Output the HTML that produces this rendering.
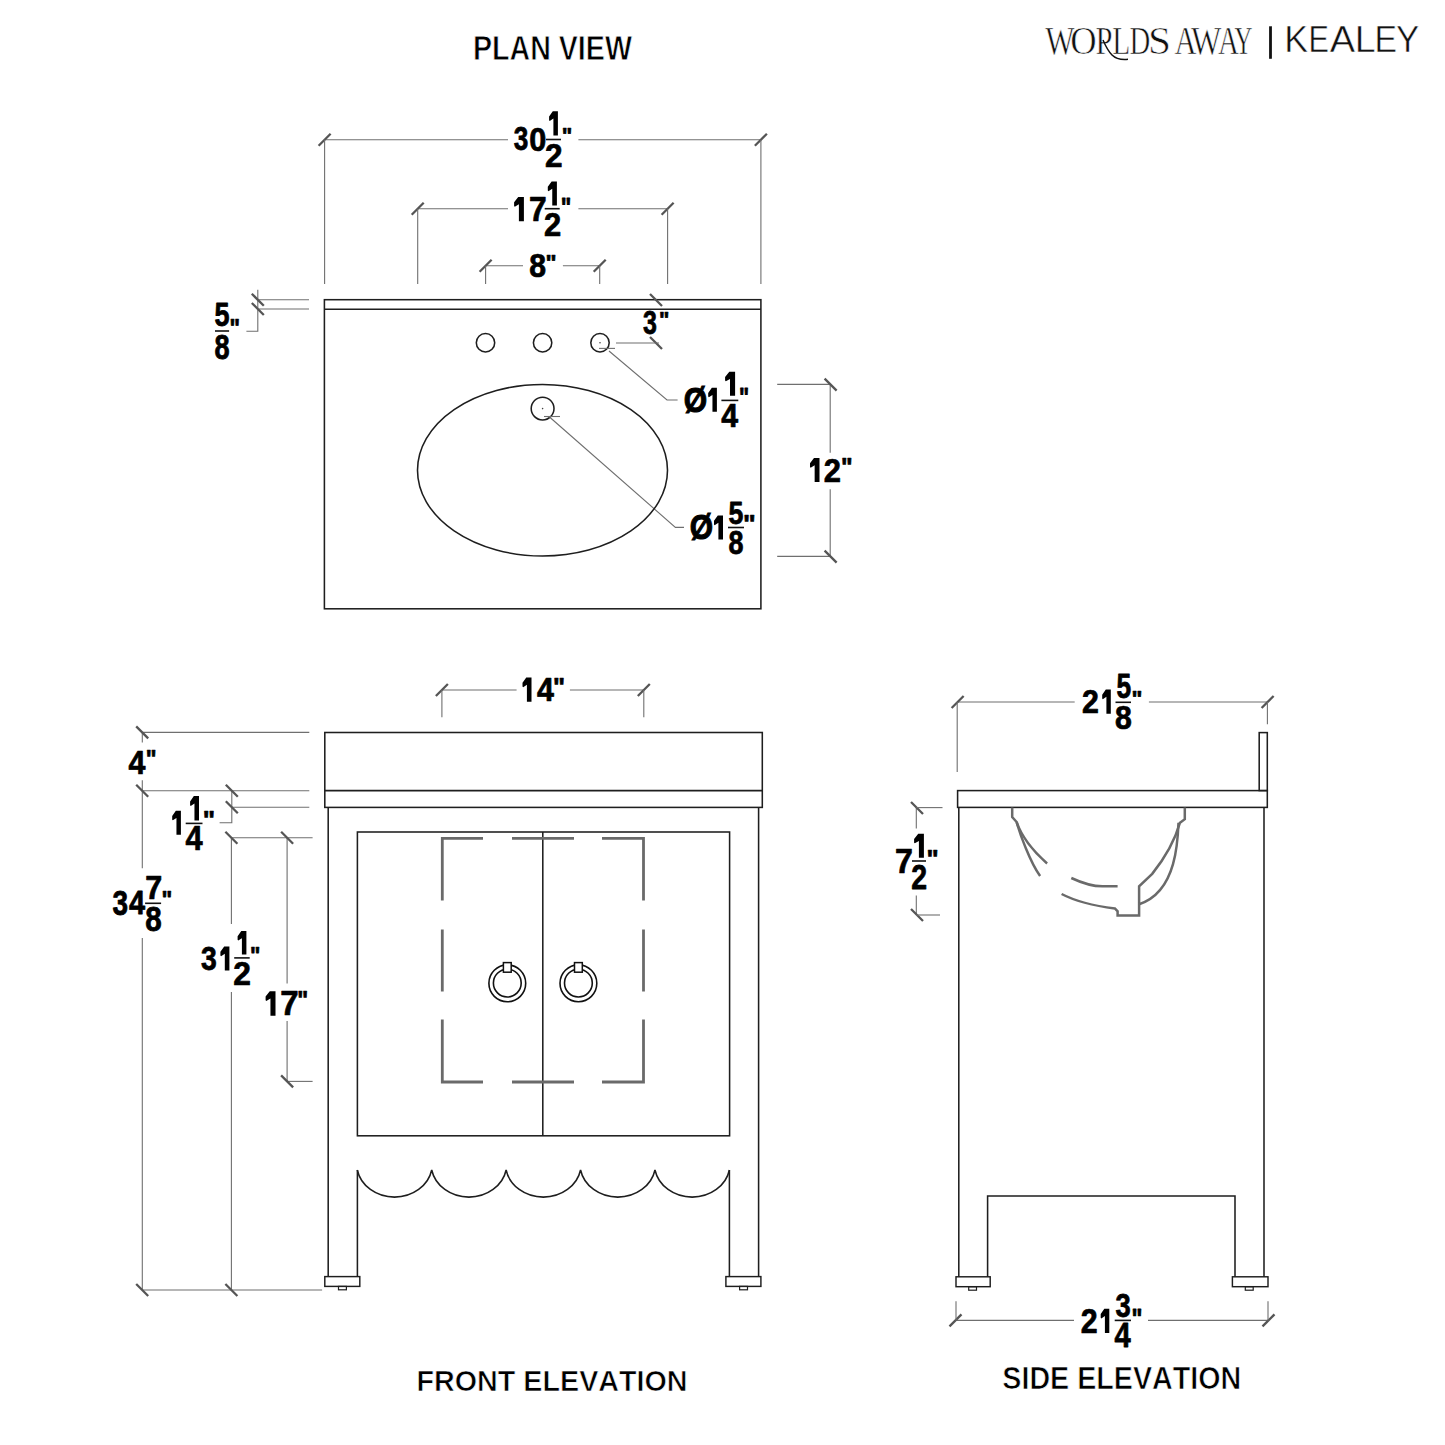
<!DOCTYPE html><html><head><meta charset="utf-8"><style>html,body{margin:0;padding:0;background:#fff;}svg{display:block;}text{font-kerning:none;}</style></head><body>
<svg width="1445" height="1445" viewBox="0 0 1445 1445">
<rect width="1445" height="1445" fill="#fff"/>
<text transform="matrix(0.28627 0 0 0.34158 472.93 60.45)" font-family='"Liberation Sans", sans-serif' font-weight="bold" font-size="100" fill="#000" stroke="#fff" stroke-width="2.2" paint-order="fill">PLAN VIEW</text>
<text transform="matrix(0.28722 0 0 0.30367 416.43 1390.55)" font-family='"Liberation Sans", sans-serif' font-weight="bold" font-size="100" fill="#000" stroke="#fff" stroke-width="2.2" paint-order="fill">FRONT ELEVATION</text>
<text transform="matrix(0.28695 0 0 0.31497 1002.32 1388.74)" font-family='"Liberation Sans", sans-serif' font-weight="bold" font-size="100" fill="#000" stroke="#fff" stroke-width="2.2" paint-order="fill">SIDE ELEVATION</text>
<text transform="matrix(0.31034 0 0 0.39557 1045.37 53.70)" font-family='"Liberation Serif", serif' font-weight="normal" font-size="100" fill="#111" stroke="#fff" stroke-width="1.6" paint-order="fill">W</text>
<text transform="matrix(0.36555 0 0 0.40930 1070.20 54.40)" font-family='"Liberation Serif", serif' font-weight="normal" font-size="100" fill="#111" stroke="#fff" stroke-width="1.6" paint-order="fill">O</text>
<text transform="matrix(0.30576 0 0 0.40471 1095.52 54.30)" font-family='"Liberation Serif", serif' font-weight="normal" font-size="100" fill="#111" stroke="#fff" stroke-width="1.6" paint-order="fill">P</text>
<text transform="matrix(0.29503 0 0 0.40471 1112.35 54.30)" font-family='"Liberation Serif", serif' font-weight="normal" font-size="100" fill="#111" stroke="#fff" stroke-width="1.6" paint-order="fill">L</text>
<text transform="matrix(0.28776 0 0 0.40351 1129.47 54.22)" font-family='"Liberation Serif", serif' font-weight="normal" font-size="100" fill="#111" stroke="#fff" stroke-width="1.6" paint-order="fill">D</text>
<text transform="matrix(0.41428 0 0 0.40930 1148.03 54.40)" font-family='"Liberation Serif", serif' font-weight="normal" font-size="100" fill="#111" stroke="#fff" stroke-width="1.6" paint-order="fill">S</text>
<text transform="matrix(0.30493 0 0 0.40142 1174.50 54.30)" font-family='"Liberation Serif", serif' font-weight="normal" font-size="100" fill="#111" stroke="#fff" stroke-width="1.6" paint-order="fill">A</text>
<text transform="matrix(0.32203 0 0 0.39557 1191.07 53.70)" font-family='"Liberation Serif", serif' font-weight="normal" font-size="100" fill="#111" stroke="#fff" stroke-width="1.6" paint-order="fill">W</text>
<text transform="matrix(0.28933 0 0 0.40142 1217.92 54.30)" font-family='"Liberation Serif", serif' font-weight="normal" font-size="100" fill="#111" stroke="#fff" stroke-width="1.6" paint-order="fill">A</text>
<text transform="matrix(0.24798 0 0 0.40471 1234.62 54.30)" font-family='"Liberation Serif", serif' font-weight="normal" font-size="100" fill="#111" stroke="#fff" stroke-width="1.6" paint-order="fill">Y</text>
<path d="M1103 40 C1106 47 1108 51 1112 55 C1116 59 1121 60 1128 59.3" stroke="#111" stroke-width="1.5" fill="none"/>
<line x1="1270.5" y1="26.3" x2="1270.5" y2="58.8" stroke="#111" stroke-width="2.8"/>
<text transform="matrix(0.35905 0 0 0.36047 1284.15 52.30)" font-family='"Liberation Sans", sans-serif' font-weight="normal" font-size="100" fill="#111" stroke="#fff" stroke-width="1.4" paint-order="fill">K</text>
<text transform="matrix(0.30628 0 0 0.36047 1308.59 52.30)" font-family='"Liberation Sans", sans-serif' font-weight="normal" font-size="100" fill="#111" stroke="#fff" stroke-width="1.4" paint-order="fill">E</text>
<text transform="matrix(0.38004 0 0 0.36047 1329.83 52.30)" font-family='"Liberation Sans", sans-serif' font-weight="normal" font-size="100" fill="#111" stroke="#fff" stroke-width="1.4" paint-order="fill">A</text>
<text transform="matrix(0.37649 0 0 0.36047 1354.81 52.30)" font-family='"Liberation Sans", sans-serif' font-weight="normal" font-size="100" fill="#111" stroke="#fff" stroke-width="1.4" paint-order="fill">L</text>
<text transform="matrix(0.33764 0 0 0.36047 1374.53 52.30)" font-family='"Liberation Sans", sans-serif' font-weight="normal" font-size="100" fill="#111" stroke="#fff" stroke-width="1.4" paint-order="fill">E</text>
<text transform="matrix(0.34829 0 0 0.36047 1395.93 52.30)" font-family='"Liberation Sans", sans-serif' font-weight="normal" font-size="100" fill="#111" stroke="#fff" stroke-width="1.4" paint-order="fill">Y</text>
<line x1="324.6" y1="139.7" x2="508" y2="139.7" stroke="#6f6f6f" stroke-width="1.1" fill="none"/>
<line x1="578.4" y1="139.7" x2="760.9" y2="139.7" stroke="#6f6f6f" stroke-width="1.1" fill="none"/>
<line x1="318.6" y1="145.7" x2="330.6" y2="133.7" stroke="#555" stroke-width="2.3" stroke-linecap="butt" fill="none"/>
<line x1="754.9" y1="145.7" x2="766.9" y2="133.7" stroke="#555" stroke-width="2.3" stroke-linecap="butt" fill="none"/>
<line x1="324.6" y1="139.7" x2="324.6" y2="284" stroke="#6f6f6f" stroke-width="1.1" fill="none"/>
<line x1="760.9" y1="139.7" x2="760.9" y2="284" stroke="#6f6f6f" stroke-width="1.1" fill="none"/>
<text transform="matrix(0.26153 0 0 0.33123 513.85 150.48)" font-family='"Liberation Sans", sans-serif' font-weight="bold" font-size="100" fill="#000"  stroke="#000" stroke-width="2.36" stroke-linejoin="round">3</text>
<text transform="matrix(0.30699 0 0 0.33192 529.34 150.53)" font-family='"Liberation Sans", sans-serif' font-weight="bold" font-size="100" fill="#000"  stroke="#000" stroke-width="2.19" stroke-linejoin="round">0</text>
<path d="M552.80 111.20 L557.90 111.20 L557.90 135.40 L553.41 135.40 L553.41 118.46 L549.72 120.88 L549.10 120.15 L549.10 116.52 Z" fill="#000"/>
<line x1="546" y1="139.5" x2="561" y2="139.5" stroke="#111" stroke-width="1.6"/>
<text transform="matrix(0.31572 0 0 0.33942 544.96 166.65)" font-family='"Liberation Sans", sans-serif' font-weight="bold" font-size="100" fill="#000"  stroke="#000" stroke-width="2.14" stroke-linejoin="round">2</text>
<text transform="matrix(0.22204 0 0 0.22043 561.79 142.82)" font-family='"Liberation Sans", sans-serif' font-weight="bold" font-size="100" fill="#000"  stroke="#000" stroke-width="3.16" stroke-linejoin="round">&quot;</text>
<line x1="417.7" y1="208.8" x2="508" y2="208.8" stroke="#6f6f6f" stroke-width="1.1" fill="none"/>
<line x1="578.4" y1="208.8" x2="667.6" y2="208.8" stroke="#6f6f6f" stroke-width="1.1" fill="none"/>
<line x1="411.7" y1="214.8" x2="423.7" y2="202.8" stroke="#555" stroke-width="2.3" stroke-linecap="butt" fill="none"/>
<line x1="661.6" y1="214.8" x2="673.6" y2="202.8" stroke="#555" stroke-width="2.3" stroke-linecap="butt" fill="none"/>
<line x1="417.7" y1="208.8" x2="417.7" y2="284" stroke="#6f6f6f" stroke-width="1.1" fill="none"/>
<line x1="667.6" y1="208.8" x2="667.6" y2="284" stroke="#6f6f6f" stroke-width="1.1" fill="none"/>
<path d="M518.22 197.00 L523.90 197.00 L523.90 221.20 L518.90 221.20 L518.90 204.26 L514.79 206.68 L514.10 205.95 L514.10 202.32 Z" fill="#000"/>
<text transform="matrix(0.31754 0 0 0.34158 528.89 220.85)" font-family='"Liberation Sans", sans-serif' font-weight="bold" font-size="100" fill="#000"  stroke="#000" stroke-width="2.12" stroke-linejoin="round">7</text>
<path d="M551.62 181.50 L556.90 181.50 L556.90 205.60 L552.26 205.60 L552.26 188.73 L548.44 191.14 L547.80 190.42 L547.80 186.80 Z" fill="#000"/>
<line x1="544.7" y1="208.7" x2="559.7" y2="208.7" stroke="#111" stroke-width="1.6"/>
<text transform="matrix(0.30948 0 0 0.33226 543.98 235.65)" font-family='"Liberation Sans", sans-serif' font-weight="bold" font-size="100" fill="#000"  stroke="#000" stroke-width="2.18" stroke-linejoin="round">2</text>
<text transform="matrix(0.22204 0 0 0.26452 560.69 215.85)" font-family='"Liberation Sans", sans-serif' font-weight="bold" font-size="100" fill="#000"  stroke="#000" stroke-width="2.88" stroke-linejoin="round">&quot;</text>
<line x1="485.6" y1="265.7" x2="523" y2="265.7" stroke="#6f6f6f" stroke-width="1.1" fill="none"/>
<line x1="562.9" y1="265.7" x2="599.7" y2="265.7" stroke="#6f6f6f" stroke-width="1.1" fill="none"/>
<line x1="479.6" y1="271.7" x2="491.6" y2="259.7" stroke="#555" stroke-width="2.3" stroke-linecap="butt" fill="none"/>
<line x1="593.7" y1="271.7" x2="605.7" y2="259.7" stroke="#555" stroke-width="2.3" stroke-linecap="butt" fill="none"/>
<line x1="485.6" y1="265.7" x2="485.6" y2="284" stroke="#6f6f6f" stroke-width="1.1" fill="none"/>
<line x1="599.7" y1="265.7" x2="599.7" y2="284" stroke="#6f6f6f" stroke-width="1.1" fill="none"/>
<text transform="matrix(0.30183 0 0 0.33333 529.29 277.32)" font-family='"Liberation Sans", sans-serif' font-weight="bold" font-size="100" fill="#000"  stroke="#000" stroke-width="2.20" stroke-linejoin="round">8</text>
<text transform="matrix(0.23372 0 0 0.22444 545.51 270.09)" font-family='"Liberation Sans", sans-serif' font-weight="bold" font-size="100" fill="#000"  stroke="#000" stroke-width="3.06" stroke-linejoin="round">&quot;</text>
<rect x="324.4" y="299.7" width="436.50" height="309.10" stroke="#1e1e1e" stroke-width="1.55" fill="none"/>
<line x1="324.4" y1="309.3" x2="760.9" y2="309.3" stroke="#1e1e1e" stroke-width="1.55" fill="none"/>
<line x1="258.9" y1="299.8" x2="309" y2="299.8" stroke="#6f6f6f" stroke-width="1.1" fill="none"/>
<line x1="258.9" y1="309" x2="309" y2="309" stroke="#6f6f6f" stroke-width="1.1" fill="none"/>
<path d="M257.8 289.7 L257.8 331.2 L246.4 331.2" stroke="#6f6f6f" stroke-width="1.1" fill="none"/>
<line x1="251.8" y1="293.8" x2="263.8" y2="305.8" stroke="#555" stroke-width="2.3" stroke-linecap="butt" fill="none"/>
<line x1="251.8" y1="303.0" x2="263.8" y2="315.0" stroke="#555" stroke-width="2.3" stroke-linecap="butt" fill="none"/>
<text transform="matrix(0.26932 0 0 0.33966 214.52 326.42)" font-family='"Liberation Sans", sans-serif' font-weight="bold" font-size="100" fill="#000"  stroke="#000" stroke-width="2.30" stroke-linejoin="round">5</text>
<line x1="215" y1="331" x2="229.1" y2="331" stroke="#111" stroke-width="1.6"/>
<text transform="matrix(0.27145 0 0 0.35028 214.49 358.81)" font-family='"Liberation Sans", sans-serif' font-weight="bold" font-size="100" fill="#000"  stroke="#000" stroke-width="2.25" stroke-linejoin="round">8</text>
<text transform="matrix(0.22204 0 0 0.25249 229.39 336.72)" font-family='"Liberation Sans", sans-serif' font-weight="bold" font-size="100" fill="#000"  stroke="#000" stroke-width="2.95" stroke-linejoin="round">&quot;</text>
<line x1="650.0" y1="294.0" x2="662.0" y2="306.0" stroke="#555" stroke-width="2.3" stroke-linecap="butt" fill="none"/>
<line x1="650.0" y1="337.0" x2="662.0" y2="349.0" stroke="#555" stroke-width="2.3" stroke-linecap="butt" fill="none"/>
<line x1="616" y1="343" x2="659" y2="343" stroke="#6f6f6f" stroke-width="1.1" fill="none"/>
<text transform="matrix(0.24946 0 0 0.33264 642.98 333.98)" font-family='"Liberation Sans", sans-serif' font-weight="bold" font-size="100" fill="#000"  stroke="#000" stroke-width="2.41" stroke-linejoin="round">3</text>
<text transform="matrix(0.21912 0 0 0.22043 658.91 326.52)" font-family='"Liberation Sans", sans-serif' font-weight="bold" font-size="100" fill="#000"  stroke="#000" stroke-width="3.19" stroke-linejoin="round">&quot;</text>
<circle cx="485.5" cy="342.8" r="9.2" stroke="#1e1e1e" stroke-width="1.55" fill="none" stroke-width="1.3"/>
<circle cx="542.6" cy="342.8" r="9.2" stroke="#1e1e1e" stroke-width="1.55" fill="none" stroke-width="1.3"/>
<circle cx="600" cy="342.8" r="9.2" stroke="#1e1e1e" stroke-width="1.55" fill="none" stroke-width="1.3"/>
<circle cx="600" cy="342.8" r="0.8" fill="#444"/>
<line x1="599" y1="348.4" x2="615" y2="348.4" stroke="#6f6f6f" stroke-width="1.1" fill="none"/>
<path d="M609 351 L667 400 L677.6 400" stroke="#6f6f6f" stroke-width="1.1" fill="none"/>
<text transform="matrix(0.30058 0 0 0.35237 683.77 412.04)" font-family='"Liberation Sans", sans-serif' font-weight="bold" font-size="100" fill="#000" stroke="#000" stroke-width="3">Ø</text>
<path d="M711.85 387.70 L716.90 387.70 L716.90 411.80 L712.46 411.80 L712.46 394.93 L708.81 397.34 L708.20 396.62 L708.20 393.00 Z" fill="#000"/>
<path d="M729.30 371.70 L735.10 371.70 L735.10 395.70 L730.00 395.70 L730.00 378.90 L725.80 381.30 L725.10 380.58 L725.10 376.98 Z" fill="#000"/>
<line x1="721.4" y1="400.4" x2="738.3" y2="400.4" stroke="#111" stroke-width="1.6"/>
<text transform="matrix(0.30244 0 0 0.33722 721.29 426.95)" font-family='"Liberation Sans", sans-serif' font-weight="bold" font-size="100" fill="#000"  stroke="#000" stroke-width="2.19" stroke-linejoin="round">4</text>
<text transform="matrix(0.21327 0 0 0.25249 738.94 405.62)" font-family='"Liberation Sans", sans-serif' font-weight="bold" font-size="100" fill="#000"  stroke="#000" stroke-width="3.01" stroke-linejoin="round">&quot;</text>
<circle cx="542.6" cy="408.6" r="11.4" stroke="#1e1e1e" stroke-width="1.55" fill="none" stroke-width="1.3"/>
<circle cx="542.6" cy="408.6" r="0.8" fill="#444"/>
<line x1="544" y1="416.5" x2="560" y2="416.5" stroke="#6f6f6f" stroke-width="1.1" fill="none"/>
<path d="M549.5 417 L675.4 527.4 L684 527.4" stroke="#6f6f6f" stroke-width="1.1" fill="none"/>
<text transform="matrix(0.29915 0 0 0.34310 689.77 539.18)" font-family='"Liberation Sans", sans-serif' font-weight="bold" font-size="100" fill="#000" stroke="#000" stroke-width="3">Ø</text>
<path d="M717.78 515.50 L723.00 515.50 L723.00 539.60 L718.41 539.60 L718.41 522.73 L714.63 525.14 L714.00 524.42 L714.00 520.80 Z" fill="#000"/>
<text transform="matrix(0.26731 0 0 0.31673 728.53 523.74)" font-family='"Liberation Sans", sans-serif' font-weight="bold" font-size="100" fill="#000"  stroke="#000" stroke-width="2.40" stroke-linejoin="round">5</text>
<line x1="728" y1="527.5" x2="744" y2="527.5" stroke="#111" stroke-width="1.6"/>
<text transform="matrix(0.26942 0 0 0.33615 728.49 554.32)" font-family='"Liberation Sans", sans-serif' font-weight="bold" font-size="100" fill="#000"  stroke="#000" stroke-width="2.31" stroke-linejoin="round">8</text>
<text transform="matrix(0.26878 0 0 0.25249 743.08 532.72)" font-family='"Liberation Sans", sans-serif' font-weight="bold" font-size="100" fill="#000"  stroke="#000" stroke-width="2.69" stroke-linejoin="round">&quot;</text>
<ellipse cx="542.5" cy="470.2" rx="125" ry="85.8" stroke="#1e1e1e" stroke-width="1.55" fill="none" stroke-width="1.5"/>
<line x1="777.2" y1="384.4" x2="830.2" y2="384.4" stroke="#6f6f6f" stroke-width="1.1" fill="none"/>
<line x1="777.2" y1="556.4" x2="830.2" y2="556.4" stroke="#6f6f6f" stroke-width="1.1" fill="none"/>
<line x1="830.2" y1="384.4" x2="830.2" y2="452.7" stroke="#6f6f6f" stroke-width="1.1" fill="none"/>
<line x1="830.2" y1="489.2" x2="830.2" y2="556.4" stroke="#6f6f6f" stroke-width="1.1" fill="none"/>
<line x1="824.6" y1="378.6" x2="836.6" y2="390.6" stroke="#555" stroke-width="2.3" stroke-linecap="butt" fill="none"/>
<line x1="824.6" y1="550.6" x2="836.6" y2="562.6" stroke="#555" stroke-width="2.3" stroke-linecap="butt" fill="none"/>
<path d="M813.99 458.10 L819.50 458.10 L819.50 482.00 L814.65 482.00 L814.65 465.27 L810.66 467.66 L810.00 466.94 L810.00 463.36 Z" fill="#000"/>
<text transform="matrix(0.30948 0 0 0.33226 823.78 481.65)" font-family='"Liberation Sans", sans-serif' font-weight="bold" font-size="100" fill="#000"  stroke="#000" stroke-width="2.18" stroke-linejoin="round">2</text>
<text transform="matrix(0.24541 0 0 0.25249 840.93 476.02)" font-family='"Liberation Sans", sans-serif' font-weight="bold" font-size="100" fill="#000"  stroke="#000" stroke-width="2.81" stroke-linejoin="round">&quot;</text>
<line x1="441.9" y1="690" x2="516.6" y2="690" stroke="#6f6f6f" stroke-width="1.1" fill="none"/>
<line x1="569.9" y1="690" x2="643.8" y2="690" stroke="#6f6f6f" stroke-width="1.1" fill="none"/>
<line x1="435.9" y1="696.0" x2="447.9" y2="684.0" stroke="#555" stroke-width="2.3" stroke-linecap="butt" fill="none"/>
<line x1="637.8" y1="696.0" x2="649.8" y2="684.0" stroke="#555" stroke-width="2.3" stroke-linecap="butt" fill="none"/>
<line x1="441.9" y1="690" x2="441.9" y2="717.3" stroke="#6f6f6f" stroke-width="1.1" fill="none"/>
<line x1="643.8" y1="690" x2="643.8" y2="717.3" stroke="#6f6f6f" stroke-width="1.1" fill="none"/>
<path d="M526.28 677.50 L531.50 677.50 L531.50 701.70 L526.91 701.70 L526.91 684.76 L523.13 687.18 L522.50 686.45 L522.50 682.82 Z" fill="#000"/>
<text transform="matrix(0.30431 0 0 0.34158 536.89 701.35)" font-family='"Liberation Sans", sans-serif' font-weight="bold" font-size="100" fill="#000"  stroke="#000" stroke-width="2.17" stroke-linejoin="round">4</text>
<text transform="matrix(0.25417 0 0 0.26051 552.97 695.77)" font-family='"Liberation Sans", sans-serif' font-weight="bold" font-size="100" fill="#000"  stroke="#000" stroke-width="2.72" stroke-linejoin="round">&quot;</text>
<rect x="324.8" y="732.5" width="437.50" height="74.90" stroke="#1e1e1e" stroke-width="1.55" fill="none"/>
<line x1="324.8" y1="790.6" x2="762.3" y2="790.6" stroke="#1e1e1e" stroke-width="1.55" fill="none"/>
<line x1="328.2" y1="807.4" x2="328.2" y2="1276.6" stroke="#1e1e1e" stroke-width="1.55" fill="none"/>
<line x1="758.6" y1="807.4" x2="758.6" y2="1276.6" stroke="#1e1e1e" stroke-width="1.55" fill="none"/>
<rect x="357.4" y="832" width="372.20" height="303.80" stroke="#1e1e1e" stroke-width="1.55" fill="none"/>
<line x1="542.8" y1="832" x2="542.8" y2="1135.8" stroke="#1e1e1e" stroke-width="1.55" fill="none"/>
<path d="M483 838.3 L442.3 838.3 L442.3 900.4" stroke="#6a6a6a" stroke-width="2.8" fill="none" stroke-linecap="butt"/>
<path d="M602 838.3 L643.5 838.3 L643.5 900.4" stroke="#6a6a6a" stroke-width="2.8" fill="none" stroke-linecap="butt"/>
<path d="M483 1082 L442.3 1082 L442.3 1019.6" stroke="#6a6a6a" stroke-width="2.8" fill="none" stroke-linecap="butt"/>
<path d="M602 1082 L643.5 1082 L643.5 1019.6" stroke="#6a6a6a" stroke-width="2.8" fill="none" stroke-linecap="butt"/>
<line x1="512" y1="838.3" x2="574" y2="838.3" stroke="#6a6a6a" stroke-width="2.8" fill="none" stroke-linecap="butt"/>
<line x1="512" y1="1082" x2="574" y2="1082" stroke="#6a6a6a" stroke-width="2.8" fill="none" stroke-linecap="butt"/>
<line x1="442.3" y1="929.5" x2="442.3" y2="991.5" stroke="#6a6a6a" stroke-width="2.8" fill="none" stroke-linecap="butt"/>
<line x1="643.5" y1="929.5" x2="643.5" y2="991.5" stroke="#6a6a6a" stroke-width="2.8" fill="none" stroke-linecap="butt"/>
<circle cx="507.3" cy="983.3" r="18.4" stroke="#111" stroke-width="1.6" fill="none"/>
<circle cx="507.3" cy="983.1" r="13.9" stroke="#111" stroke-width="1.6" fill="none"/>
<rect x="503.40000000000003" y="962.6" width="7.8" height="9.6" stroke="#111" stroke-width="1.5" fill="#fff"/>
<circle cx="578.4" cy="983.3" r="18.4" stroke="#111" stroke-width="1.6" fill="none"/>
<circle cx="578.4" cy="983.1" r="13.9" stroke="#111" stroke-width="1.6" fill="none"/>
<rect x="574.5" y="962.6" width="7.8" height="9.6" stroke="#111" stroke-width="1.5" fill="#fff"/>
<line x1="357.4" y1="1170" x2="357.4" y2="1276.6" stroke="#1e1e1e" stroke-width="1.55" fill="none"/>
<line x1="729.4" y1="1170" x2="729.4" y2="1276.6" stroke="#1e1e1e" stroke-width="1.55" fill="none"/>
<path d="M357.30 1170 A37.9 33.5 0 0 0 431.72 1170 A37.9 33.5 0 0 0 506.14 1170 A37.9 33.5 0 0 0 580.56 1170 A37.9 33.5 0 0 0 654.98 1170 A37.9 33.5 0 0 0 729.40 1170" stroke="#1e1e1e" stroke-width="1.55" fill="none"/>
<rect x="324.8" y="1276.6" width="35.00" height="9.80" stroke="#1e1e1e" stroke-width="1.45" fill="none"/>
<rect x="338.5" y="1286.4" width="7.90" height="3.40" stroke="#1e1e1e" stroke-width="1.2" fill="none"/>
<rect x="725.9" y="1276.6" width="35.00" height="9.80" stroke="#1e1e1e" stroke-width="1.45" fill="none"/>
<rect x="739.6" y="1286.4" width="7.90" height="3.40" stroke="#1e1e1e" stroke-width="1.2" fill="none"/>
<line x1="143" y1="732.4" x2="309.3" y2="732.4" stroke="#6f6f6f" stroke-width="1.1" fill="none"/>
<line x1="143" y1="790.7" x2="309.3" y2="790.7" stroke="#6f6f6f" stroke-width="1.1" fill="none"/>
<line x1="231.8" y1="807.3" x2="309.3" y2="807.3" stroke="#6f6f6f" stroke-width="1.1" fill="none"/>
<line x1="231.8" y1="837.8" x2="312.6" y2="837.8" stroke="#6f6f6f" stroke-width="1.1" fill="none"/>
<line x1="287" y1="1081.4" x2="312.6" y2="1081.4" stroke="#6f6f6f" stroke-width="1.1" fill="none"/>
<line x1="142.2" y1="1290" x2="322.1" y2="1290" stroke="#6f6f6f" stroke-width="1.1" fill="none"/>
<line x1="142.3" y1="732.4" x2="142.3" y2="742.5" stroke="#6f6f6f" stroke-width="1.1" fill="none"/>
<line x1="142.3" y1="780.3" x2="142.3" y2="868.3" stroke="#6f6f6f" stroke-width="1.1" fill="none"/>
<line x1="142.3" y1="938" x2="142.3" y2="1290" stroke="#6f6f6f" stroke-width="1.1" fill="none"/>
<line x1="136.2" y1="726.4" x2="148.2" y2="738.4" stroke="#555" stroke-width="2.3" stroke-linecap="butt" fill="none"/>
<line x1="136.2" y1="784.7" x2="148.2" y2="796.7" stroke="#555" stroke-width="2.3" stroke-linecap="butt" fill="none"/>
<line x1="136.2" y1="1284.0" x2="148.2" y2="1296.0" stroke="#555" stroke-width="2.3" stroke-linecap="butt" fill="none"/>
<text transform="matrix(0.30431 0 0 0.33576 128.39 773.85)" font-family='"Liberation Sans", sans-serif' font-weight="bold" font-size="100" fill="#000"  stroke="#000" stroke-width="2.19" stroke-linejoin="round">4</text>
<text transform="matrix(0.22788 0 0 0.25249 145.85 768.12)" font-family='"Liberation Sans", sans-serif' font-weight="bold" font-size="100" fill="#000"  stroke="#000" stroke-width="2.91" stroke-linejoin="round">&quot;</text>
<text transform="matrix(0.27964 0 0 0.34533 112.51 915.06)" font-family='"Liberation Sans", sans-serif' font-weight="bold" font-size="100" fill="#000"  stroke="#000" stroke-width="2.24" stroke-linejoin="round">3</text>
<text transform="matrix(0.28937 0 0 0.33867 129.01 914.45)" font-family='"Liberation Sans", sans-serif' font-weight="bold" font-size="100" fill="#000"  stroke="#000" stroke-width="2.23" stroke-linejoin="round">4</text>
<text transform="matrix(0.30475 0 0 0.33431 145.34 899.45)" font-family='"Liberation Sans", sans-serif' font-weight="bold" font-size="100" fill="#000"  stroke="#000" stroke-width="2.19" stroke-linejoin="round">7</text>
<line x1="145.1" y1="903.3" x2="161.1" y2="903.3" stroke="#111" stroke-width="1.6"/>
<text transform="matrix(0.29575 0 0 0.35028 145.21 931.11)" font-family='"Liberation Sans", sans-serif' font-weight="bold" font-size="100" fill="#000"  stroke="#000" stroke-width="2.17" stroke-linejoin="round">8</text>
<text transform="matrix(0.22788 0 0 0.24448 161.55 908.27)" font-family='"Liberation Sans", sans-serif' font-weight="bold" font-size="100" fill="#000"  stroke="#000" stroke-width="2.96" stroke-linejoin="round">&quot;</text>
<path d="M231.8 790.7 L231.8 822.8 L219.6 822.8" stroke="#6f6f6f" stroke-width="1.1" fill="none"/>
<line x1="225.8" y1="784.7" x2="237.8" y2="796.7" stroke="#555" stroke-width="2.3" stroke-linecap="butt" fill="none"/>
<line x1="225.8" y1="801.3" x2="237.8" y2="813.3" stroke="#555" stroke-width="2.3" stroke-linecap="butt" fill="none"/>
<path d="M175.85 810.80 L180.90 810.80 L180.90 834.70 L176.46 834.70 L176.46 817.97 L172.81 820.36 L172.20 819.64 L172.20 816.06 Z" fill="#000"/>
<path d="M193.84 796.10 L199.00 796.10 L199.00 820.60 L194.46 820.60 L194.46 803.45 L190.72 805.90 L190.10 805.17 L190.10 801.49 Z" fill="#000"/>
<line x1="185.7" y1="823.4" x2="202.5" y2="823.4" stroke="#111" stroke-width="1.6"/>
<text transform="matrix(0.30804 0 0 0.34594 185.38 850.35)" font-family='"Liberation Sans", sans-serif' font-weight="bold" font-size="100" fill="#000"  stroke="#000" stroke-width="2.14" stroke-linejoin="round">4</text>
<text transform="matrix(0.26002 0 0 0.25249 202.64 828.72)" font-family='"Liberation Sans", sans-serif' font-weight="bold" font-size="100" fill="#000"  stroke="#000" stroke-width="2.73" stroke-linejoin="round">&quot;</text>
<line x1="231.4" y1="837.8" x2="231.4" y2="924" stroke="#6f6f6f" stroke-width="1.1" fill="none"/>
<line x1="231.4" y1="992" x2="231.4" y2="1290" stroke="#6f6f6f" stroke-width="1.1" fill="none"/>
<line x1="225.4" y1="831.8" x2="237.4" y2="843.8" stroke="#555" stroke-width="2.3" stroke-linecap="butt" fill="none"/>
<line x1="225.4" y1="1284.0" x2="237.4" y2="1296.0" stroke="#555" stroke-width="2.3" stroke-linecap="butt" fill="none"/>
<text transform="matrix(0.28366 0 0 0.33546 201.00 970.07)" font-family='"Liberation Sans", sans-serif' font-weight="bold" font-size="100" fill="#000"  stroke="#000" stroke-width="2.26" stroke-linejoin="round">3</text>
<path d="M224.18 946.60 L229.40 946.60 L229.40 970.50 L224.81 970.50 L224.81 953.77 L221.03 956.16 L220.40 955.44 L220.40 951.86 Z" fill="#000"/>
<path d="M241.30 931.10 L246.40 931.10 L246.40 954.60 L241.91 954.60 L241.91 938.15 L238.22 940.50 L237.60 939.80 L237.60 936.27 Z" fill="#000"/>
<line x1="234.2" y1="957.9" x2="249.7" y2="957.9" stroke="#111" stroke-width="1.6"/>
<text transform="matrix(0.31779 0 0 0.33799 233.25 985.25)" font-family='"Liberation Sans", sans-serif' font-weight="bold" font-size="100" fill="#000"  stroke="#000" stroke-width="2.13" stroke-linejoin="round">2</text>
<text transform="matrix(0.21912 0 0 0.24448 250.11 964.17)" font-family='"Liberation Sans", sans-serif' font-weight="bold" font-size="100" fill="#000"  stroke="#000" stroke-width="3.02" stroke-linejoin="round">&quot;</text>
<line x1="287.1" y1="837.8" x2="287.1" y2="983.5" stroke="#6f6f6f" stroke-width="1.1" fill="none"/>
<line x1="287.1" y1="1020.9" x2="287.1" y2="1081.4" stroke="#6f6f6f" stroke-width="1.1" fill="none"/>
<line x1="281.1" y1="831.8" x2="293.1" y2="843.8" stroke="#555" stroke-width="2.3" stroke-linecap="butt" fill="none"/>
<line x1="281.1" y1="1075.4" x2="293.1" y2="1087.4" stroke="#555" stroke-width="2.3" stroke-linecap="butt" fill="none"/>
<path d="M269.76 991.20 L275.50 991.20 L275.50 1015.70 L270.45 1015.70 L270.45 998.55 L266.29 1001.00 L265.60 1000.27 L265.60 996.59 Z" fill="#000"/>
<text transform="matrix(0.33032 0 0 0.34594 280.23 1015.35)" font-family='"Liberation Sans", sans-serif' font-weight="bold" font-size="100" fill="#000"  stroke="#000" stroke-width="2.07" stroke-linejoin="round">7</text>
<text transform="matrix(0.23080 0 0 0.25249 297.23 1009.12)" font-family='"Liberation Sans", sans-serif' font-weight="bold" font-size="100" fill="#000"  stroke="#000" stroke-width="2.90" stroke-linejoin="round">&quot;</text>
<line x1="957" y1="702" x2="1074.7" y2="702" stroke="#6f6f6f" stroke-width="1.1" fill="none"/>
<line x1="1148.9" y1="702" x2="1267.3" y2="702" stroke="#6f6f6f" stroke-width="1.1" fill="none"/>
<line x1="951.6" y1="708.0" x2="963.6" y2="696.0" stroke="#555" stroke-width="2.3" stroke-linecap="butt" fill="none"/>
<line x1="1261.6" y1="708.0" x2="1273.6" y2="696.0" stroke="#555" stroke-width="2.3" stroke-linecap="butt" fill="none"/>
<line x1="957.2" y1="702" x2="957.2" y2="771.9" stroke="#6f6f6f" stroke-width="1.1" fill="none"/>
<line x1="1267.4" y1="702" x2="1267.4" y2="724.3" stroke="#6f6f6f" stroke-width="1.1" fill="none"/>
<text transform="matrix(0.30325 0 0 0.33942 1082.10 713.35)" font-family='"Liberation Sans", sans-serif' font-weight="bold" font-size="100" fill="#000"  stroke="#000" stroke-width="2.18" stroke-linejoin="round">2</text>
<path d="M1105.81 689.50 L1110.80 689.50 L1110.80 713.70 L1106.41 713.70 L1106.41 696.76 L1102.80 699.18 L1102.20 698.45 L1102.20 694.82 Z" fill="#000"/>
<text transform="matrix(0.26329 0 0 0.34253 1116.54 697.92)" font-family='"Liberation Sans", sans-serif' font-weight="bold" font-size="100" fill="#000"  stroke="#000" stroke-width="2.31" stroke-linejoin="round">5</text>
<line x1="1115.5" y1="702.3" x2="1131" y2="702.3" stroke="#111" stroke-width="1.6"/>
<text transform="matrix(0.30183 0 0 0.33474 1115.09 729.12)" font-family='"Liberation Sans", sans-serif' font-weight="bold" font-size="100" fill="#000"  stroke="#000" stroke-width="2.20" stroke-linejoin="round">8</text>
<text transform="matrix(0.23080 0 0 0.22444 1131.43 705.79)" font-family='"Liberation Sans", sans-serif' font-weight="bold" font-size="100" fill="#000"  stroke="#000" stroke-width="3.08" stroke-linejoin="round">&quot;</text>
<rect x="1259.2" y="732.6" width="8.10" height="58.00" stroke="#1e1e1e" stroke-width="1.55" fill="none"/>
<rect x="957.6" y="790.6" width="309.70" height="16.80" stroke="#1e1e1e" stroke-width="1.55" fill="none"/>
<line x1="958.8" y1="807.4" x2="958.8" y2="1276.8" stroke="#1e1e1e" stroke-width="1.55" fill="none"/>
<line x1="1264" y1="807.4" x2="1264" y2="1276.8" stroke="#1e1e1e" stroke-width="1.55" fill="none"/>
<path d="M987.6 1276.8 L987.6 1196 L1235 1196 L1235 1276.8" stroke="#1e1e1e" stroke-width="1.55" fill="none"/>
<rect x="956" y="1276.8" width="34.20" height="9.90" stroke="#1e1e1e" stroke-width="1.45" fill="none"/>
<rect x="968.7" y="1286.7" width="7.80" height="3.50" stroke="#1e1e1e" stroke-width="1.2" fill="none"/>
<rect x="1232.4" y="1276.8" width="35.60" height="9.90" stroke="#1e1e1e" stroke-width="1.45" fill="none"/>
<rect x="1245.3" y="1286.7" width="7.90" height="3.50" stroke="#1e1e1e" stroke-width="1.2" fill="none"/>
<line x1="916.3" y1="807.6" x2="916.3" y2="828.6" stroke="#6f6f6f" stroke-width="1.1" fill="none"/>
<line x1="916.3" y1="895.4" x2="916.3" y2="915" stroke="#6f6f6f" stroke-width="1.1" fill="none"/>
<line x1="911.0" y1="802.0" x2="923.0" y2="814.0" stroke="#555" stroke-width="2.3" stroke-linecap="butt" fill="none"/>
<line x1="911.0" y1="909.0" x2="923.0" y2="921.0" stroke="#555" stroke-width="2.3" stroke-linecap="butt" fill="none"/>
<line x1="916.3" y1="807.6" x2="942.5" y2="807.6" stroke="#6f6f6f" stroke-width="1.1" fill="none"/>
<line x1="916.3" y1="915" x2="940" y2="915" stroke="#6f6f6f" stroke-width="1.1" fill="none"/>
<text transform="matrix(0.32180 0 0 0.34448 894.97 873.35)" font-family='"Liberation Sans", sans-serif' font-weight="bold" font-size="100" fill="#000"  stroke="#000" stroke-width="2.10" stroke-linejoin="round">7</text>
<path d="M918.22 833.80 L923.90 833.80 L923.90 857.70 L918.90 857.70 L918.90 840.97 L914.79 843.36 L914.10 842.64 L914.10 839.06 Z" fill="#000"/>
<line x1="912" y1="861" x2="926" y2="861" stroke="#111" stroke-width="1.6"/>
<text transform="matrix(0.28456 0 0 0.34229 911.16 889.35)" font-family='"Liberation Sans", sans-serif' font-weight="bold" font-size="100" fill="#000"  stroke="#000" stroke-width="2.23" stroke-linejoin="round">2</text>
<text transform="matrix(0.25710 0 0 0.26051 926.46 867.87)" font-family='"Liberation Sans", sans-serif' font-weight="bold" font-size="100" fill="#000"  stroke="#000" stroke-width="2.70" stroke-linejoin="round">&quot;</text>
<line x1="956" y1="1320.4" x2="1074" y2="1320.4" stroke="#6f6f6f" stroke-width="1.1" fill="none"/>
<line x1="1148" y1="1320.4" x2="1268" y2="1320.4" stroke="#6f6f6f" stroke-width="1.1" fill="none"/>
<line x1="949.5" y1="1326.4" x2="961.5" y2="1314.4" stroke="#555" stroke-width="2.3" stroke-linecap="butt" fill="none"/>
<line x1="1262.5" y1="1326.4" x2="1274.5" y2="1314.4" stroke="#555" stroke-width="2.3" stroke-linecap="butt" fill="none"/>
<line x1="956" y1="1301.2" x2="956" y2="1320.4" stroke="#6f6f6f" stroke-width="1.1" fill="none"/>
<line x1="1268" y1="1301.2" x2="1268" y2="1320.4" stroke="#6f6f6f" stroke-width="1.1" fill="none"/>
<text transform="matrix(0.30325 0 0 0.34658 1080.80 1332.55)" font-family='"Liberation Sans", sans-serif' font-weight="bold" font-size="100" fill="#000"  stroke="#000" stroke-width="2.15" stroke-linejoin="round">2</text>
<path d="M1104.31 1308.80 L1109.30 1308.80 L1109.30 1332.90 L1104.91 1332.90 L1104.91 1316.03 L1101.30 1318.44 L1100.70 1317.72 L1100.70 1314.10 Z" fill="#000"/>
<text transform="matrix(0.27360 0 0 0.33405 1115.42 1316.57)" font-family='"Liberation Sans", sans-serif' font-weight="bold" font-size="100" fill="#000"  stroke="#000" stroke-width="2.30" stroke-linejoin="round">3</text>
<line x1="1114.7" y1="1320.4" x2="1131" y2="1320.4" stroke="#111" stroke-width="1.6"/>
<text transform="matrix(0.29124 0 0 0.34448 1114.61 1347.35)" font-family='"Liberation Sans", sans-serif' font-weight="bold" font-size="100" fill="#000"  stroke="#000" stroke-width="2.20" stroke-linejoin="round">4</text>
<text transform="matrix(0.23080 0 0 0.27253 1131.43 1327.90)" font-family='"Liberation Sans", sans-serif' font-weight="bold" font-size="100" fill="#000"  stroke="#000" stroke-width="2.78" stroke-linejoin="round">&quot;</text>
<path d="M1012.2 807.5 L1012.2 817.1 L1016.6 822 C1020 834 1030 862 1040.1 876" stroke="#6a6a6a" stroke-width="2.5" fill="none" stroke-linejoin="miter"/>
<path d="M1016.6 822 C1022 838 1034 852 1047.1 863.5" stroke="#6a6a6a" stroke-width="2.5" fill="none" stroke-linejoin="miter"/>
<path d="M1071.3 878 C1082 883 1095 886.3 1102.4 886.3 L1117.6 886.3" stroke="#6a6a6a" stroke-width="2.5" fill="none" stroke-linejoin="miter"/>
<path d="M1061.6 894 C1075 901 1095 906 1114.9 908.5 L1117.6 911.3 L1117.6 915.4 L1139.1 915.4 L1139.1 886.3 L1152.2 873.9 C1165 858 1175 840 1180 822.7 L1184.8 819.2 L1184.8 807.5" stroke="#6a6a6a" stroke-width="2.5" fill="none" stroke-linejoin="miter"/>
<path d="M1139.1 904.3 C1152 900 1166 889 1173 864.2 C1177 850 1178 836 1178.5 822.7" stroke="#6a6a6a" stroke-width="2.5" fill="none" stroke-linejoin="miter"/>
</svg></body></html>
